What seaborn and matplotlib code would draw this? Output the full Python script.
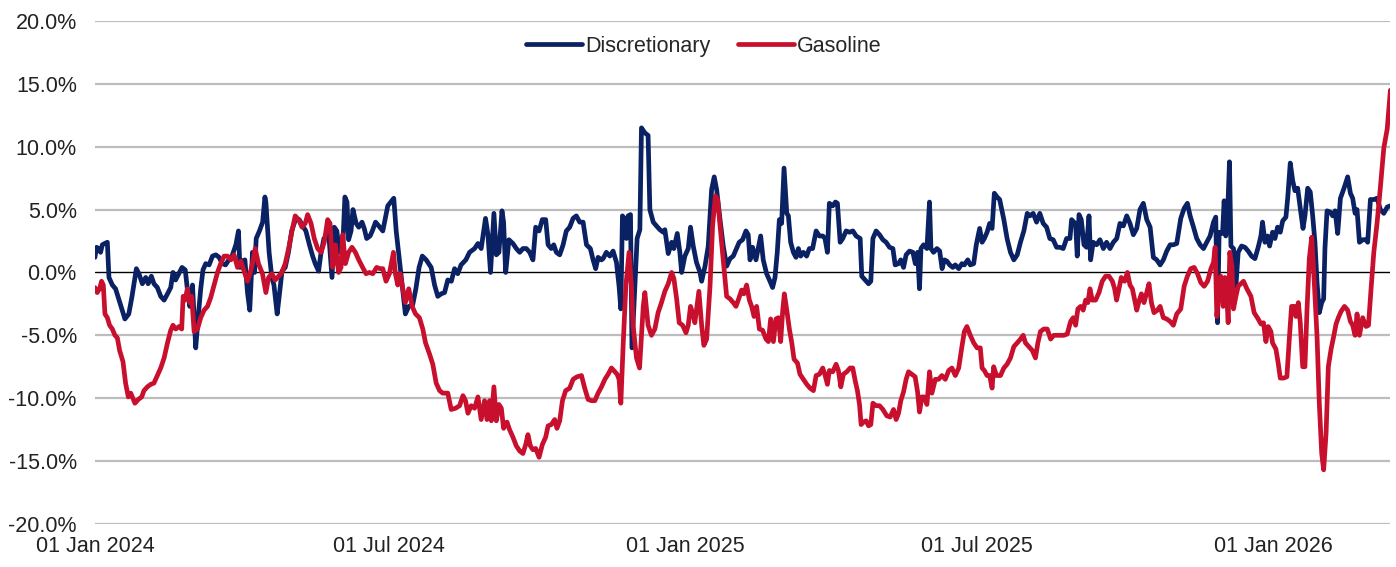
import pandas as pd
import matplotlib
matplotlib.use("Agg")
import matplotlib.pyplot as plt
import matplotlib.dates as mdates
from matplotlib.ticker import FuncFormatter
import seaborn as sns

# Values: days since 01 Jan 2024, percent change
disc_days = [
    0, 1, 2.5, 3.5, 4.6, 6, 7.7, 8.7, 10.8, 12.8, 14.5, 17, 18.6, 21, 23, 25.7, 27.3, 29.4, 31.5, 33,
    35, 36.6, 38.7, 40.8, 42.9, 45, 47, 48.4, 50, 52, 54, 56, 57.3, 58.8, 60.5, 62.5, 64, 65.6, 67, 68.7,
    70.8, 72.9, 75, 77, 79, 81, 83, 85, 87.4, 89, 89.9, 91, 93, 94.6, 96, 97.7, 99, 100, 102, 104,
    105.4, 106, 108, 109.7, 111, 113, 114, 116, 118, 120, 122, 124.6, 126.7, 128.8, 130.8, 133, 135, 136.6, 138.7, 140,
    142, 145, 147, 148.4, 150, 151.6, 153.6, 155, 156.3, 157.3, 158.8, 160, 162, 163.6, 165.6, 167, 168.5, 170.6, 172, 174,
    176, 178.5, 181.6, 185.3, 186.8, 188.8, 190.5, 192.5, 194.6, 197, 199, 201, 203, 205.4, 208.5, 210.6, 212.6, 214.7, 216.8, 218.8,
    221, 223, 225, 227, 230, 232.3, 235.4, 237.5, 239.5, 242.2, 243.7, 245.3, 247.4, 248.9, 250.5, 252.4, 253.4, 254.7, 256.7, 259.2,
    261.3, 263.4, 265.4, 267.5, 269.6, 271.6, 273.3, 275.4, 277.4, 279.5, 281, 283, 284.5, 286.1, 288.2, 290.3, 292.3, 294.4, 296.5, 298.5,
    300.6, 302.7, 304.8, 307.2, 308.9, 310.5, 312, 314.1, 315.1, 317.1, 319.3, 321.3, 323.4, 325, 326.1, 327.1, 328.6, 329.6, 330.6, 332.1,
    333, 336.2, 337.9, 338.9, 341, 343, 344.1, 346.2, 348.2, 350.3, 352.4, 353.4, 355.5, 357.6, 359, 361.1, 362.7, 363.8, 365.8, 367.9,
    369.3, 371, 373, 375.2, 376.2, 378.3, 380.3, 382.4, 384, 385.5, 387.6, 389.6, 391.7, 393.8, 395.8, 399.5, 401.6, 403.7, 405.1, 406.2,
    407.8, 409.9, 411.3, 412.8, 414.4, 416.5, 418.6, 420.2, 421.7, 423.1, 424.4, 425.8, 427.3, 429, 430, 431.4, 433.1, 434.7, 436.2, 437.6,
    439.3, 441.3, 443, 445, 447.2, 449.2, 451.3, 452.7, 454.2, 455.4, 457.5, 459.2, 460.4, 462.1, 463.7, 465.8, 467.9, 470, 472, 474.5,
    475.5, 477.6, 479.7, 481.1, 482.4, 484.4, 486.5, 488.6, 490.6, 492.7, 494.8, 496.2, 498.3, 499.7, 501.4, 503, 505.1, 507.2, 508.7, 510.1,
    511.3, 512.2, 513.8, 515.9, 517.5, 518.4, 520, 522.1, 523.8, 525.3, 526.7, 528.3, 530, 532, 533.5, 535.6, 537.6, 539.1, 541.2, 542.8,
    544.9, 546.5, 548.6, 550.1, 551.5, 553.2, 554.8, 556.3, 557.7, 559.4, 561, 563.6, 565.6, 567.7, 569.8, 571.9, 573.9, 576, 578.1, 579.7,
    581.8, 583.9, 585.9, 588, 590.1, 592.1, 594.2, 596.3, 598.4, 600.4, 602.5, 604.6, 605.6, 607, 608.1, 609.1, 610.2, 611.6, 613.3, 614.9,
    616.4, 617.4, 619, 621.1, 623.2, 625.3, 627.3, 629.4, 631.5, 633.6, 635.6, 637.7, 639.8, 641.8, 643.9, 646, 648, 650.1, 652.2, 654.3,
    656.3, 658.4, 660.5, 662.5, 664.6, 666.7, 668.7, 670.8, 673.3, 675.4, 677.4, 679.1, 681.2, 683.2, 685.3, 687.4, 689.4, 691.5, 693.6, 695,
    696.1, 697.1, 699.2, 700.2, 701.2, 702.3, 703.5, 704.4, 706, 707.5, 708.9, 711, 713.1, 715.1, 717.2, 719.3, 721.3, 723, 724, 725.5,
    727.1, 728.4, 730.2, 731.7, 733.3, 735, 736.5, 738.5, 739.6, 741.2, 742.7, 744.1, 745.8, 747.4, 749.1, 750.3, 752, 753.6, 755.1, 756.5,
    757.8, 759.2, 760.7, 761.9, 762.7, 764, 766, 767.5, 769, 770.6, 772.3, 774.8, 776.8, 778.5, 779.9, 781.4, 782.6, 784.1, 786.1, 788.2,
    789.2, 790.9, 793, 795, 797.1, 799.2, 801.3, 803.3,
]
disc_vals = [
    1.2, 2.0, 1.9, 1.6, 2.2, 2.3, 2.4, -0.4, -1.0, -1.3, -2.0, -3.0, -3.7, -3.3, -1.9, 0.3, -0.1, -0.9, -0.4, -0.9,
    -0.3, -0.9, -1.2, -1.9, -2.2, -1.7, -1.2, 0.0, -0.6, -0.1, 0.4, 0.2, -1.3, -2.7, -1.0, -6.0, -3.6, -1.3, 0.2, 0.7,
    0.6, 1.3, 1.4, 1.2, 0.7, 0.6, 1.0, 1.3, 2.2, 3.3, 0.4, 0.9, 1.0, -1.6, -3.0, 1.6, 0.0, 2.7, 3.3, 4.0,
    6.0, 5.6, 1.6, -0.4, -1.0, -3.3, -2.2, 0.1, 0.4, 1.6, 3.3, 4.3, 4.2, 3.7, 3.3, 2.2, 1.3, 0.7, 0.1, 1.4,
    2.7, 3.0, -0.4, 3.6, 3.3, 1.6, 1.9, 6.0, 5.6, 2.6, 3.3, 5.0, 3.9, 3.6, 4.0, 3.5, 2.7, 2.9, 3.3, 4.0,
    3.7, 3.3, 5.3, 5.9, 3.3, 1.0, -1.0, -3.3, -2.7, -2.6, -1.3, 0.4, 1.3, 1.0, 0.4, -1.0, -1.9, -1.7, -1.6, -0.6,
    -0.7, 0.3, -0.1, 0.6, 1.0, 1.6, 1.9, 2.3, 1.9, 4.3, 3.0, 0.0, 4.7, 1.4, 1.6, 4.9, 4.0, 0.0, 2.6, 2.3,
    1.9, 1.6, 1.9, 1.9, 1.6, 1.0, 3.6, 3.3, 4.2, 4.2, 2.2, 1.9, 2.2, 1.6, 1.4, 2.2, 3.3, 3.6, 4.3, 4.5,
    4.0, 4.0, 2.2, 1.9, 1.0, 0.3, 1.2, 1.0, 1.1, 1.6, 1.3, 1.7, 0.8, -1.1, -2.9, 4.5, 4.2, 2.7, 4.5, 4.6,
    -6.0, 2.7, 3.4, 11.5, 11.1, 10.9, 5.0, 4.0, 3.7, 3.4, 3.2, 3.4, 1.5, 2.4, 1.9, 3.1, 1.6, 0.0, 1.3, 1.9,
    3.6, 2.1, 0.8, 0.0, -0.7, 0.5, 2.1, 6.6, 7.6, 6.6, 4.2, 2.1, 0.5, 1.1, 1.3, 2.4, 2.6, 3.3, 3.0, 1.0,
    2.0, 1.0, 1.9, 2.9, 1.0, -0.1, -0.7, -1.2, -0.4, 1.6, 4.2, 3.9, 8.3, 4.7, 4.5, 2.4, 1.6, 1.2, 1.9, 1.3,
    1.6, 1.3, 1.9, 1.9, 3.3, 2.9, 2.9, 2.7, 1.6, 5.5, 5.3, 5.6, 5.5, 2.4, 2.7, 3.3, 3.2, 3.3, 2.9, 2.7,
    -0.3, -0.6, -0.9, -0.7, 2.7, 3.3, 3.0, 2.6, 2.4, 2.0, 1.9, 0.6, 0.7, 1.0, 0.4, 1.4, 1.7, 1.6, 0.7, 1.6,
    -1.3, 1.9, 2.2, 1.9, 5.6, 1.9, 1.6, 1.9, 1.7, 0.3, 1.0, 0.9, 0.6, 0.4, 0.6, 0.3, 0.7, 0.6, 1.0, 0.6,
    0.7, 2.2, 3.5, 2.4, 2.7, 3.2, 3.9, 3.5, 6.3, 6.0, 5.8, 4.2, 2.7, 1.6, 1.0, 1.4, 2.4, 3.3, 4.7, 4.5,
    4.7, 4.0, 4.7, 3.9, 3.6, 2.7, 2.6, 2.0, 2.0, 1.9, 2.7, 2.7, 4.2, 4.0, 3.9, 1.3, 4.6, 4.2, 2.2, 2.0,
    4.5, 1.0, 2.4, 2.2, 2.6, 1.9, 2.4, 1.9, 2.4, 2.7, 3.9, 3.7, 4.5, 3.9, 3.0, 3.5, 5.0, 5.5, 4.2, 3.6,
    1.2, 1.0, 0.6, 1.0, 1.7, 2.2, 2.2, 2.3, 4.3, 5.1, 5.5, 4.5, 3.6, 2.7, 2.2, 1.9, 2.4, 2.9, 4.0, 4.4,
    -4.0, 3.2, 3.1, 5.7, 2.9, 4.5, 8.8, 2.1, 1.9, -1.1, 1.6, 2.1, 2.0, 1.7, 1.3, 1.1, 2.0, 2.9, 4.0, 2.4,
    2.9, 2.1, 3.2, 2.7, 3.6, 3.2, 4.1, 4.4, 5.9, 8.7, 7.3, 6.5, 6.7, 5.1, 3.5, 4.5, 6.7, 6.4, 4.5, 2.4,
    -0.8, -3.2, -2.4, -2.1, 1.9, 4.9, 4.8, 4.5, 4.9, 3.1, 5.9, 6.8, 7.6, 6.3, 5.9, 4.7, 5.0, 2.4, 2.6, 2.6,
    2.4, 5.8, 5.8, 5.9, 5.0, 4.7, 5.2, 5.3,
]

gas_days = [
    0, 1.4, 2.9, 4.1, 5.2, 6.2, 7.7, 9.1, 10.8, 12.4, 13.9, 15.3, 17.4, 19, 20.7, 22.2, 23.2, 24.8, 26.9, 29,
    30.4, 32.5, 34.6, 36.6, 38.7, 40.8, 42.9, 45, 47, 48.4, 50.1, 52.2, 53.8, 54.7, 55.9, 57.3, 58.8, 60, 61.5, 63.6,
    65.6, 67.7, 69.8, 71.8, 73.9, 76, 78, 80.1, 82.2, 84.3, 86.3, 88.4, 90.5, 92.5, 94.6, 96.1, 97.7, 99.4, 101.4, 103.9,
    106, 107.7, 109.7, 111.8, 113.9, 115.9, 118, 120.1, 122.2, 124.2, 126.3, 128.4, 130.4, 131.9, 134, 136, 138.1, 140.2, 142.2, 144.3,
    145.8, 147.4, 149.1, 151.1, 152.6, 153.6, 155.3, 157.3, 159.4, 161.5, 163.6, 166, 168.1, 170.2, 172.3, 174.7, 176.8, 178.5, 180.5, 182.6,
    185.1, 186.3, 187.8, 189.2, 190.9, 192.5, 194.6, 196.7, 198.8, 201.2, 203.3, 205, 207.5, 209.5, 211.6, 213.7, 215.7, 218.8, 220.9, 223.6,
    226.1, 228.2, 229.8, 231.3, 233.3, 235.4, 237.5, 239.5, 241.6, 243.1, 244.7, 245.8, 247.4, 248.9, 250.5, 252, 253.4, 255.5, 257.1, 259.2,
    261.3, 263.4, 265.4, 267.1, 268.5, 270, 271.6, 273.3, 275.4, 277.4, 279.5, 281, 283, 285.1, 286.5, 288.2, 289.9, 291.9, 294.4, 296.5,
    298.9, 301.7, 303.7, 305.8, 307.9, 310, 312, 314.1, 316.2, 318.2, 320.3, 322.4, 323.8, 325, 326.1, 327.5, 329.2, 331.2, 332.7, 333.7,
    335.8, 337.7, 340, 341, 343, 345.1, 347.2, 349.2, 351.3, 353.4, 355.5, 357.6, 359, 360.7, 362.3, 364.4, 366.5, 367.9, 369.3, 370.6,
    372, 374.5, 376.2, 377.6, 379.3, 381.4, 383, 384.7, 386.1, 388, 390, 391.7, 393.8, 395.8, 397.5, 398.9, 401, 402.4, 404.1, 405.8,
    407.2, 408.7, 410.3, 412, 414, 416.1, 417.6, 419, 420.7, 422.3, 423.8, 425.2, 426.5, 427.5, 429, 430.6, 432.1, 433.5, 435.6, 437.2,
    439.3, 441.4, 443.4, 445.5, 447.2, 449.2, 451.3, 452.8, 454.2, 455.4, 457.5, 459.6, 461, 462.5, 464.1, 466.2, 468.3, 469.9, 471.4, 472.8,
    474.1, 475.1, 476.6, 478.2, 479.7, 481.1, 482.4, 484.4, 486.5, 488.6, 491, 493.1, 495.2, 496.8, 498.3, 499.7, 501.4, 503, 504.5, 506.6,
    508.6, 510.1, 511.3, 512.8, 514.2, 515.9, 517.5, 519, 521.1, 523.1, 525.2, 527.3, 529.4, 531.4, 533.5, 535.6, 537.6, 539.1, 540.7, 542.8,
    544.9, 547, 549, 550.1, 551.5, 553.2, 554.8, 556.3, 557.3, 559, 561.5, 563.6, 565.6, 567.7, 569.8, 571.9, 573.9, 575.6, 577, 579.1,
    581.2, 583.2, 584.7, 586.3, 588.4, 590.5, 592.6, 594.6, 596.7, 598.8, 600.8, 602.9, 605, 606.6, 608.1, 609.5, 611.2, 612.8, 614.3, 615.7,
    617, 618.4, 620.5, 622.6, 624.6, 626.7, 628.8, 630.9, 632.3, 633.5, 635, 636.4, 638.5, 640.2, 641.8, 643.3, 644.7, 646, 647.4, 648.9,
    650.5, 652.2, 653.6, 655.1, 656.7, 658.8, 660.5, 662.5, 664.6, 666.7, 668.7, 670.8, 673.3, 675.4, 677.4, 679.5, 681.6, 683.7, 685.7, 687.8,
    689.9, 692, 693.6, 694.6, 695.7, 697.1, 698.1, 699.6, 700.6, 701.7, 702.7, 703.7, 705, 706, 707.5, 708.9, 710.6, 712.2, 714.3, 716.8,
    718.8, 721.3, 723, 724.6, 726.1, 727.5, 729.2, 730.2, 732.3, 733.7, 735, 737.1, 739.1, 740.6, 742, 743.7, 744.7, 746.2, 747.4, 748.9,
    750.3, 751.6, 753, 754.5, 756.1, 757.8, 759.2, 760.7, 761.9, 763.4, 764.8, 766.5, 768.1, 769.6, 771, 772.7, 774.8, 776.8, 778.5, 779.9,
    781.4, 782.6, 784.1, 786.1, 788.2, 789.7, 791.3, 793, 795, 797.1, 799.2, 801.3, 803.3,
]
gas_vals = [
    -1.2, -1.6, -1.3, -0.7, -1.0, -3.3, -3.6, -4.2, -4.5, -5.0, -5.2, -6.2, -7.1, -8.8, -9.9, -9.6, -9.9, -10.4, -10.1, -9.9,
    -9.4, -9.1, -8.9, -8.8, -8.2, -7.6, -6.8, -5.6, -4.6, -4.2, -4.5, -4.3, -4.5, -1.9, -2.2, -1.3, -2.4, -1.9, -4.7, -4.5,
    -3.6, -3.0, -2.7, -2.0, -1.0, 0.0, 0.7, 1.3, 1.3, 1.0, 1.4, 0.4, 0.9, 0.1, -0.7, -0.1, 0.7, 1.9, 0.7, -0.1,
    -1.6, -0.4, -0.1, -0.6, -0.3, 0.0, 0.7, 1.9, 3.3, 4.5, 4.2, 3.6, 3.9, 4.6, 3.9, 2.7, 1.9, 1.6, 2.4, 4.2,
    3.9, 0.4, 2.2, 0.0, 0.4, 3.0, 0.7, 1.6, 2.0, 1.6, 1.0, 0.4, -0.1, 0.0, -0.1, 0.4, 0.3, 0.3, -0.7, -0.1,
    1.6, -0.1, -1.0, -0.1, -1.3, -2.4, -1.3, -2.7, -3.3, -3.6, -4.5, -5.6, -6.5, -7.3, -8.8, -9.4, -9.6, -9.6, -10.9, -10.8,
    -10.6, -9.8, -10.2, -11.2, -10.6, -10.8, -9.9, -11.7, -10.2, -11.7, -10.2, -11.8, -9.1, -11.8, -10.5, -10.8, -12.4, -11.9, -12.5, -13.1,
    -13.8, -14.2, -14.4, -13.7, -12.9, -13.8, -14.1, -14.0, -14.7, -13.7, -13.1, -12.2, -12.1, -11.7, -12.4, -11.8, -10.2, -9.4, -9.2, -8.5,
    -8.3, -8.2, -9.2, -10.1, -10.2, -10.2, -9.6, -9.1, -8.5, -8.1, -7.6, -7.9, -8.1, -8.5, -10.4, -5.9, -1.1, 1.6, -1.1, -4.2,
    -6.8, -7.6, -2.7, -1.6, -4.2, -5.0, -4.5, -3.2, -2.4, -1.5, -0.9, 0.0, -0.5, -2.1, -4.0, -4.2, -4.8, -4.2, -2.7, -3.2,
    -4.0, -1.5, -4.2, -5.8, -5.3, -1.1, 3.7, 6.1, 5.8, 3.2, 0.5, -1.9, -2.1, -2.4, -2.7, -2.2, -1.4, -1.7, -1.0, -2.2,
    -2.7, -3.5, -2.7, -4.5, -4.6, -5.3, -5.5, -3.7, -5.5, -3.7, -3.6, -5.5, -3.0, -1.7, -3.0, -4.5, -5.6, -6.9, -7.2, -8.1,
    -8.5, -8.9, -9.2, -9.4, -8.2, -8.1, -7.6, -8.2, -8.9, -7.8, -7.9, -7.3, -7.8, -9.1, -8.1, -7.9, -7.6, -7.6, -8.6, -9.4,
    -10.5, -12.1, -11.9, -11.8, -12.2, -12.1, -10.4, -10.6, -10.6, -10.9, -11.4, -11.5, -10.9, -11.7, -11.2, -10.2, -9.5, -8.5, -7.9, -8.1,
    -8.3, -9.5, -11.1, -9.9, -9.9, -10.5, -7.9, -9.6, -8.5, -8.5, -8.2, -8.5, -7.8, -7.6, -8.2, -7.6, -5.9, -4.7, -4.3, -5.0,
    -5.6, -6.0, -6.0, -7.6, -7.8, -8.2, -8.2, -9.2, -7.5, -8.2, -8.2, -7.6, -7.3, -6.8, -5.9, -5.6, -5.3, -5.0, -5.6, -5.9,
    -6.2, -6.8, -5.6, -4.7, -4.5, -4.5, -5.3, -5.0, -5.0, -5.0, -5.0, -4.9, -3.9, -3.6, -4.2, -2.9, -2.7, -3.0, -2.2, -2.4,
    -1.3, -2.2, -2.2, -1.6, -0.7, -0.3, -0.3, -0.7, -1.3, -2.2, -1.3, -0.4, -0.7, 0.0, -1.0, -1.3, -2.2, -3.0, -2.3, -1.7,
    -2.4, -1.6, -0.9, -2.4, -3.2, -3.0, -2.7, -3.6, -3.7, -3.9, -4.2, -3.3, -2.9, -1.1, -0.3, 0.3, 0.4, -0.1, -0.8, -1.1,
    -0.7, 0.3, 0.8, 2.0, -3.5, -1.3, -0.3, -2.7, -0.4, -1.6, -4.0, 1.6, 0.5, -2.9, -1.9, -1.1, -0.9, -0.7, -1.3, -1.9,
    -3.2, -3.7, -4.1, -4.0, -5.5, -4.3, -4.7, -5.6, -6.1, -7.2, -8.4, -8.4, -8.3, -5.3, -2.7, -2.7, -3.5, -2.4, -4.0, -7.5,
    -7.5, -2.9, 1.1, 2.8, -0.8, -5.1, -10.4, -14.4, -15.7, -12.8, -7.5, -6.1, -5.1, -4.1, -3.6, -3.1, -2.7, -3.0, -3.9, -4.2,
    -5.0, -3.3, -5.0, -3.6, -4.3, -4.2, -1.3, 1.6, 3.9, 6.8, 9.9, 11.4, 14.5,
]

series_names = ["Discretionary", "Gasoline"]
series_colors = ["#0A2163", "#C8102E"]
tick_dates = ["2024-01-01", "2024-07-01", "2025-01-01", "2025-07-01", "2026-01-01"]
y_ticks = [-20, -15, -10, -5, 0, 5, 10, 15, 20]

start = pd.Timestamp("2024-01-01")
df = pd.concat([
    pd.DataFrame({"date": start + pd.to_timedelta(disc_days, unit="D"),
                  "value": disc_vals, "series": series_names[0]}),
    pd.DataFrame({"date": start + pd.to_timedelta(gas_days, unit="D"),
                  "value": gas_vals, "series": series_names[1]}),
], ignore_index=True)

sns.set_style("white")
plt.rcParams["font.family"] = ["Liberation Sans", "DejaVu Sans"]

fig = plt.figure(figsize=(13.96, 5.67), dpi=100)
ax = fig.add_axes([0.068, 0.076, 0.928, 0.887])

for y in y_ticks:
    if y == 0:
        continue
    ax.axhline(y, color="#BDBDBD", lw=1.6, zorder=0)
ax.axhline(0, color="black", lw=1.0, zorder=1)

sns.lineplot(data=df, x="date", y="value", hue="series", hue_order=series_names,
             palette=dict(zip(series_names, series_colors)), estimator=None,
             sort=True, lw=3.4, ax=ax, zorder=3)

ax.set_xlim(start, start + pd.Timedelta(days=803.3))
ax.set_ylim(-20, 20)
ax.set_yticks(y_ticks)
ax.yaxis.set_major_formatter(FuncFormatter(lambda v, p: f"{v:.1f}%"))
ax.set_xticks(pd.to_datetime(tick_dates))
ax.xaxis.set_major_formatter(mdates.DateFormatter("%d %b %Y"))
ax.tick_params(axis="both", length=0, labelsize=15.5, colors="#222222")
ax.tick_params(axis="y", pad=13)
ax.tick_params(axis="x", pad=9)
ax.set_xlabel("")
ax.set_ylabel("")
for s in ax.spines.values():
    s.set_visible(False)

leg = ax.legend(loc="center", bbox_to_anchor=(0.47, 0.95), ncol=2, frameon=False,
                fontsize=15.5, handlelength=2.6, handletextpad=0.15, columnspacing=1.3)
for h in leg.get_lines():
    h.set_linewidth(3.4)

fig.savefig("out.png", dpi=100)
